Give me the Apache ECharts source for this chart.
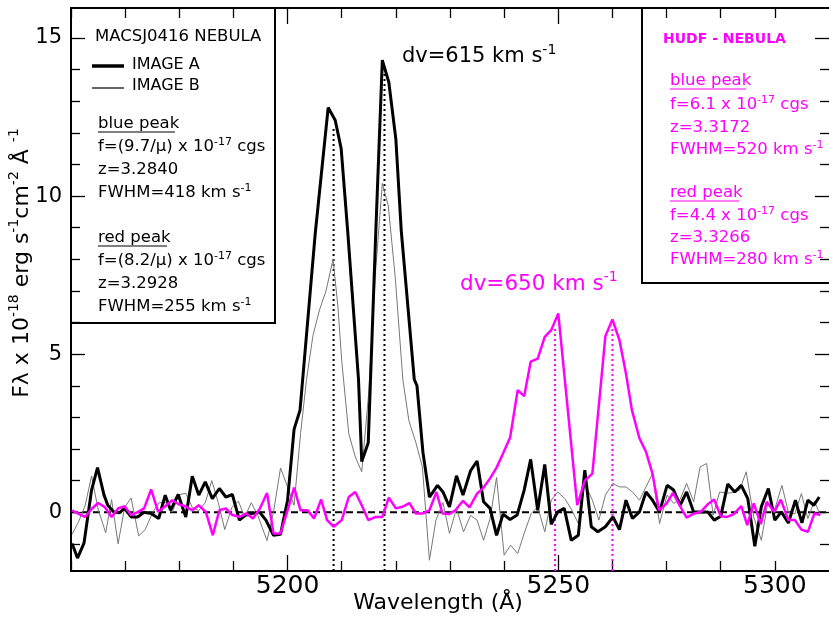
<!DOCTYPE html>
<html>
<head>
<meta charset="utf-8">
<title>MACSJ0416 / HUDF nebula spectra</title>
<script src="https://cdn.jsdelivr.net/npm/echarts@6.0.0/dist/echarts.min.js"></script>
<style>
  html, body { margin: 0; padding: 0; background: #fff; }
  #chart { width: 829px; height: 623px; }
</style>
</head>
<body>
<div id="chart"></div>
<script>
// spectra: [wavelength (A), flux (1e-18 cgs)]
const imageA = [
  [5160.2,-0.99],[5161.2,-1.45],[5162.4,-0.98],[5163.8,0.70],[5164.9,1.41],[5166.1,0.54],[5166.8,0.22],
  [5167.9,0.01],[5168.9,-0.02],[5169.9,0.12],[5171.1,-0.15],[5172.3,-0.15],[5173.5,0.00],[5174.8,-0.04],
  [5176.2,-0.20],[5177.4,0.54],[5178.4,0.06],[5179.8,0.56],[5181.2,-0.15],[5182.4,1.14],[5183.6,0.54],
  [5184.8,0.96],[5186.1,0.43],[5187.4,0.75],[5188.6,0.48],[5189.8,0.56],[5191.1,-0.25],[5192.2,-0.10],
  [5193.5,-0.04],[5194.8,0.01],[5196.0,-0.25],[5197.4,-0.73],[5198.7,-0.70],[5200.0,0.38],[5201.2,2.62],
  [5202.3,3.23],[5205.1,8.8],[5207.5,12.8],[5208.8,12.4],[5209.9,11.5],[5211.1,8.9],[5213.1,4.2],
  [5213.7,1.6],[5214.9,2.2],[5216.3,8.9],[5217.5,14.3],[5218.7,13.6],[5220.0,11.8],[5221.0,8.9],
  [5223.4,4.2],[5223.9,4.0],[5225.0,1.9],[5226.2,0.48],[5227.7,0.85],[5228.7,0.64],[5229.9,0.17],
  [5231.2,1.15],[5232.4,0.54],[5233.8,1.31],[5235.0,1.62],[5236.2,0.33],[5237.4,0.12],[5238.6,-0.73],
  [5239.8,-0.06],[5241.1,-0.23],[5242.4,-0.09],[5243.7,0.70],[5244.9,1.67],[5246.2,0.06],[5247.5,1.51],
  [5248.7,-0.38],[5249.9,0.01],[5251.1,0.12],[5252.4,-0.89],[5253.7,-0.73],[5254.9,1.33],[5256.1,-0.46],
  [5257.3,-0.62],[5258.7,-0.46],[5260.1,-0.15],[5261.3,-0.55],[5262.5,0.38],[5263.7,-0.20],[5265.0,0.01],
  [5266.2,0.64],[5267.4,0.38],[5268.7,0.01],[5270.1,0.85],[5271.3,0.70],[5272.5,0.22],[5273.7,0.64],
  [5275.0,0.01],[5276.3,0.01],[5277.6,0.01],[5278.8,-0.25],[5280.0,-0.13],[5281.3,0.89],[5282.6,0.64],
  [5283.8,0.85],[5285.0,0.43],[5286.3,-1.08],[5287.5,0.17],[5288.8,0.75],[5290.0,-0.25],[5291.2,0.01],
  [5292.5,-0.34],[5293.8,0.38],[5295.0,-0.34],[5296.1,0.38],[5297.2,0.22],[5298.2,0.48]
];

const imageB = [
  [5160.2,-0.70],[5161.4,-0.30],[5162.6,0.20],[5163.8,1.15],[5165.0,0.10],[5166.4,-0.65],[5167.5,0.40],
  [5168.7,-1.00],[5169.9,0.15],[5171.1,0.45],[5172.5,-0.75],[5173.7,-0.55],[5175.1,0.00],[5176.3,0.30],
  [5177.5,0.30],[5178.7,0.00],[5179.9,0.55],[5181.2,0.60],[5182.4,0.15],[5183.6,0.05],[5184.8,0.30],
  [5186.0,1.00],[5187.2,0.30],[5188.4,-0.55],[5189.7,0.15],[5190.9,0.35],[5192.1,-0.15],[5193.3,0.30],
  [5194.5,-0.10],[5196.2,-0.90],[5197.4,0.00],[5198.7,1.40],[5200.0,0.80],[5201.2,0.22],[5202.4,2.49],
  [5203.5,4.20],[5204.7,5.60],[5205.9,6.40],[5207.1,7.00],[5208.4,8.00],[5209.3,6.50],[5210.0,4.80],
  [5211.3,2.49],[5212.5,1.75],[5213.7,1.28],[5215.0,3.80],[5216.2,7.50],[5217.5,10.40],[5218.6,9.70],
  [5219.9,7.40],[5221.3,4.18],[5222.4,2.90],[5223.7,2.20],[5224.9,1.43],[5226.2,-1.52],[5227.4,-0.25],
  [5228.7,0.30],[5229.9,-0.67],[5231.2,0.12],[5232.5,-0.62],[5233.8,-0.10],[5235.0,-0.25],[5236.2,-0.89],
  [5237.4,-0.20],[5238.6,1.10],[5240.0,-1.36],[5241.2,-1.04],[5242.5,-1.31],[5243.8,-0.62],[5245.0,-0.04],
  [5246.2,0.17],[5247.5,-0.62],[5248.7,0.38],[5249.9,0.64],[5251.2,0.43],[5252.4,0.10],[5253.7,-0.36],
  [5254.9,0.91],[5256.3,0.38],[5257.5,-0.25],[5258.7,0.54],[5260.1,0.91],[5261.3,0.80],[5262.5,0.80],
  [5263.7,0.64],[5265.0,0.38],[5266.2,0.80],[5267.4,1.22],[5268.7,-0.36],[5270.1,0.54],[5271.3,0.28],
  [5272.5,0.40],[5273.7,0.91],[5275.0,0.33],[5276.2,1.43],[5277.4,1.54],[5278.6,-0.09],[5279.8,0.64],
  [5281.0,0.60],[5282.3,0.62],[5283.5,0.70],[5284.7,1.28],[5286.1,-0.15],[5287.5,-0.89],[5288.7,0.30],
  [5290.0,0.10],[5291.3,0.85],[5292.5,0.00],[5293.7,-0.05],[5294.9,0.59],[5296.1,-0.20],[5297.3,0.35],
  [5298.3,-0.05]
];

const hudf = [
  [5160.2,0.06],[5161.4,-0.05],[5162.6,-0.15],[5163.8,0.10],[5165.0,0.29],[5166.2,0.17],[5167.5,-0.15],
  [5168.7,0.12],[5169.9,0.19],[5171.1,-0.09],[5172.3,0.00],[5173.5,0.12],[5174.8,0.72],[5176.1,0.01],
  [5177.4,0.19],[5178.7,0.38],[5179.9,0.25],[5181.1,0.19],[5182.4,0.06],[5183.6,0.22],[5184.9,0.01],
  [5186.2,-0.73],[5187.4,0.06],[5188.6,0.12],[5189.8,-0.09],[5191.2,-0.15],[5192.4,-0.04],[5193.6,-0.20],
  [5194.9,0.12],[5196.2,0.61],[5197.4,-0.67],[5198.7,-0.67],[5200.0,0.06],[5201.2,0.78],[5202.4,0.06],
  [5203.7,0.06],[5204.9,-0.20],[5206.2,0.40],[5207.3,-0.25],[5208.5,-0.46],[5210.0,-0.25],[5211.3,0.48],
  [5212.5,0.64],[5213.7,0.22],[5214.9,-0.25],[5216.3,-0.15],[5217.5,-0.15],[5218.7,0.46],[5220.0,0.12],
  [5221.2,0.17],[5222.5,0.29],[5223.7,-0.04],[5225.0,-0.04],[5226.2,0.06],[5227.5,0.64],[5228.6,-0.04],
  [5229.8,-0.06],[5231.0,0.06],[5232.4,0.36],[5233.6,0.15],[5235.0,0.59],[5236.2,0.78],[5237.4,1.07],
  [5238.6,1.41],[5239.8,1.86],[5241.1,2.36],[5242.5,3.86],[5243.7,3.67],[5244.9,4.76],[5246.2,4.86],
  [5247.5,5.55],[5248.7,5.76],[5250.0,6.29],[5253.5,0.22],[5254.9,1.00],[5256.3,1.22],[5258.7,5.57],
  [5260.0,6.10],[5261.3,5.44],[5262.5,4.39],[5263.6,3.23],[5265.0,2.33],[5266.2,1.91],[5267.4,1.22],
  [5268.6,0.06],[5270.0,0.27],[5271.2,0.61],[5272.4,0.22],[5273.7,-0.17],[5275.1,-0.04],[5276.3,0.01],
  [5277.6,0.25],[5278.8,0.40],[5280.0,-0.13],[5281.2,-0.15],[5282.4,-0.06],[5283.8,0.19],[5284.9,-0.41],
  [5286.1,0.28],[5287.4,-0.38],[5288.5,0.33],[5289.9,0.01],[5291.1,0.40],[5292.5,-0.25],[5293.7,-0.25],
  [5294.9,-0.55],[5296.1,-0.62],[5297.3,-0.04],[5298.4,-0.09]
];

// peak markers: [wavelength, top of dotted line]
const peaksA = [[5208.5, 12.2], [5217.9, 13.9]];
const peaksHudf = [[5249.4, 5.8], [5260.0, 5.9]];

// axes
const xMin = 5160, xMax = 5300, yMin = -1.86, yMax = 15.95;
const xMajorTicks = [5200, 5250];
const xMinorTicks = [5160, 5170, 5180, 5190, 5210, 5220, 5230, 5240, 5260, 5270, 5280, 5290];
const xLabelValues = [5200, 5250, 5290];
const xLabelTexts = ['5200', '5250', '5300'];
const yMajorTicks = [0, 5, 10, 15];
const yMinorTicks = [-1, 1, 2, 3, 4, 6, 7, 8, 9, 11, 12, 13, 14];

const FONT = 'DejaVu Sans';
const MAGENTA = '#ff00ff';

const chart = echarts.init(document.getElementById('chart'), null, { renderer: 'canvas' });

function xAxisDef(pos, ticks, len, extra) {
  return Object.assign({
    type: 'value', position: pos, min: xMin, max: xMax,
    axisLine: { show: false, onZero: false },
    splitLine: { show: false },
    axisTick: { show: true, inside: true, length: len, customValues: ticks, lineStyle: { color: '#000', width: 1.3 } },
    axisLabel: { show: false }
  }, extra || {});
}
function yAxisDef(pos, ticks, len, extra) {
  return Object.assign({
    type: 'value', position: pos, min: yMin, max: yMax,
    axisLine: { show: false, onZero: false },
    splitLine: { show: false },
    axisTick: { show: true, inside: true, length: len, customValues: ticks, lineStyle: { color: '#000', width: 1.3 } },
    axisLabel: { show: false }
  }, extra || {});
}

function vline(p, color) {
  return {
    type: 'line', data: [[p[0], yMin], [p[0], p[1]]], symbol: 'none', silent: true,
    lineStyle: { color: color, width: 2, type: [2, 3] }
  };
}

const supRich = (size) => ({ sup: { fontSize: size, fontFamily: FONT, verticalAlign: 'top', lineHeight: size + 2 } });

function txt(x, y, text, opt) {
  opt = opt || {};
  const size = opt.size || 16.5;
  return {
    type: 'text', x: x, y: y, rotation: opt.rotation || 0, z: 10,
    style: {
      text: text, fill: opt.color || '#000',
      fontFamily: FONT, fontSize: size, fontWeight: opt.weight || 'normal',
      lineHeight: Math.round(size * 1.3),
      align: opt.align || 'left', verticalAlign: 'middle',
      rich: supRich(Math.round(size * 0.65))
    }
  };
}
function uline(x1, x2, y, color) {
  return { type: 'line', z: 10, shape: { x1: x1, y1: y, x2: x2, y2: y }, style: { stroke: color, lineWidth: 1.2 } };
}

chart.setOption({
  animation: false,
  grid: { left: 71, right: -9, top: 8, bottom: 52 },
  xAxis: [
    xAxisDef('bottom', xMajorTicks, 16, {
      axisLine: { show: true, onZero: false, lineStyle: { color: '#000', width: 2 } },
      axisLabel: {
        show: true, customValues: xLabelValues, margin: 3,
        fontFamily: FONT, fontSize: 25, color: '#000',
        formatter: (v) => xLabelTexts[xLabelValues.indexOf(v)]
      }
    }),
    xAxisDef('bottom', xMinorTicks, 10),
    xAxisDef('top', xMajorTicks, 16, {
      axisLine: { show: true, onZero: false, lineStyle: { color: '#000', width: 2 } }
    }),
    xAxisDef('top', xMinorTicks, 10)
  ],
  yAxis: [
    yAxisDef('left', yMajorTicks, 14, {
      axisLine: { show: true, onZero: false, lineStyle: { color: '#000', width: 2 } },
      axisLabel: {
        show: true, customValues: yMajorTicks, margin: 9,
        fontFamily: FONT, fontSize: 21, color: '#000'
      }
    }),
    yAxisDef('left', yMinorTicks, 9),
    yAxisDef('right', yMajorTicks, 14),
    yAxisDef('right', yMinorTicks, 9)
  ],
  series: [
    {
      type: 'line', data: [[xMin, 0], [xMax, 0]], symbol: 'none', silent: true,
      lineStyle: { color: '#000', width: 2, type: [7, 4] }
    },
    vline(peaksA[0], '#000'), vline(peaksA[1], '#000'),
    vline(peaksHudf[0], MAGENTA), vline(peaksHudf[1], MAGENTA),
    { name: 'IMAGE B', type: 'line', data: imageB, symbol: 'none', lineStyle: { color: '#777', width: 1 } },
    { name: 'IMAGE A', type: 'line', data: imageA, symbol: 'none', lineStyle: { color: '#000', width: 3 } },
    { name: 'HUDF', type: 'line', data: hudf, symbol: 'none', lineStyle: { color: MAGENTA, width: 2.5 } }
  ],
  graphic: [
    // boxes
    { type: 'rect', z: 9, shape: { x: 71, y: 8, width: 204, height: 315 }, style: { fill: 'none', stroke: '#000', lineWidth: 2 } },
    { type: 'rect', z: 9, shape: { x: 642, y: 8, width: 200, height: 275 }, style: { fill: 'none', stroke: '#000', lineWidth: 2 } },
    // MACS box
    txt(95, 37, 'MACSJ0416 NEBULA', { size: 16.5 }),
    { type: 'line', z: 10, shape: { x1: 92, y1: 66, x2: 124, y2: 66 }, style: { stroke: '#000', lineWidth: 3.5 } },
    txt(132, 65, 'IMAGE A', { size: 16 }),
    { type: 'line', z: 10, shape: { x1: 92, y1: 88, x2: 124, y2: 88 }, style: { stroke: '#000', lineWidth: 1.2 } },
    txt(132, 86, 'IMAGE B', { size: 16 }),
    txt(98, 124, 'blue peak'), uline(98, 175, 132, '#000'),
    txt(98, 147, 'f=(9.7/μ) x 10{sup|-17} cgs'),
    txt(98, 170, 'z=3.2840'),
    txt(98, 193, 'FWHM=418 km s{sup|-1}'),
    txt(98, 238, 'red peak'), uline(98, 167, 246, '#000'),
    txt(98, 261, 'f=(8.2/μ) x 10{sup|-17} cgs'),
    txt(98, 284, 'z=3.2928'),
    txt(98, 307, 'FWHM=255 km s{sup|-1}'),
    // HUDF box
    txt(663, 39, 'HUDF - NEBULA', { size: 14, weight: 'bold', color: MAGENTA }),
    txt(670, 81, 'blue peak', { color: MAGENTA }), uline(670, 746, 89, MAGENTA),
    txt(670, 105, 'f=6.1 x 10{sup|-17} cgs', { color: MAGENTA }),
    txt(670, 128, 'z=3.3172', { color: MAGENTA }),
    txt(670, 150, 'FWHM=520 km s{sup|-1}', { color: MAGENTA }),
    txt(670, 193, 'red peak', { color: MAGENTA }), uline(670, 739, 201, MAGENTA),
    txt(670, 216, 'f=4.4 x 10{sup|-17} cgs', { color: MAGENTA }),
    txt(670, 238, 'z=3.3266', { color: MAGENTA }),
    txt(670, 260, 'FWHM=280 km s{sup|-1}', { color: MAGENTA }),
    // velocity separations
    txt(402, 57, 'dv=615 km s{sup|-1}', { size: 21 }),
    txt(460, 284, 'dv=650 km s{sup|-1}', { size: 21.5, color: MAGENTA }),
    // axis titles
    txt(438, 603, 'Wavelength (Å)', { size: 22, align: 'center' }),
    txt(22, 263, 'Fλ x 10{sup|-18} erg s{sup|-1}cm{sup|-2} Å {sup|-1}', { size: 22, align: 'center', rotation: Math.PI / 2 })
  ]
});
</script>
</body>
</html>
